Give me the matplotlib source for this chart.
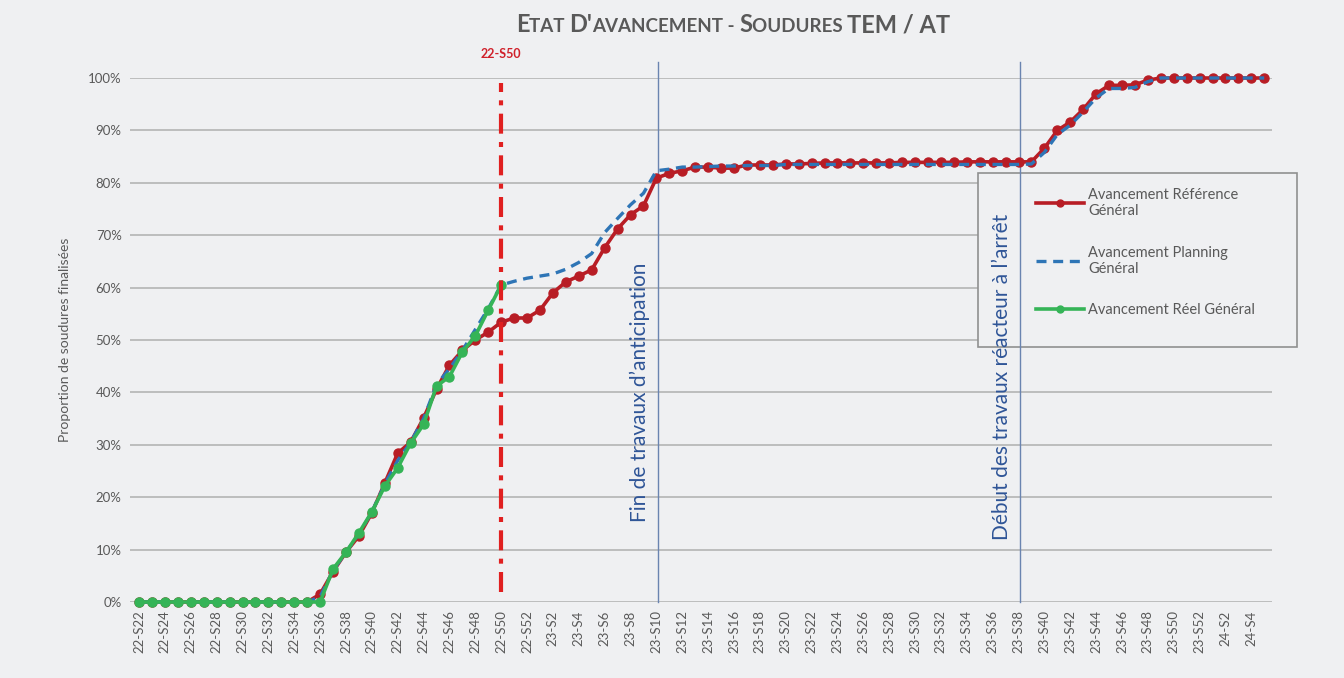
import numpy as np
import matplotlib.pyplot as plt
import matplotlib
from matplotlib.offsetbox import TextArea, HPacker, AnchoredOffsetbox
from matplotlib.patches import Rectangle

matplotlib.rcParams.update({'font.family': ['Lato', 'DejaVu Sans'],
                            'font.size': 10})

# Week categories: 22-S22 .. 22-S52, 23-S1 .. 23-S52, 24-S1 .. 24-S5
weeks = ['22-S%d' % w for w in range(22, 53)] + \
        ['23-S%d' % w for w in range(1, 53)] + \
        ['24-S%d' % w for w in range(1, 6)]

# Avancement Référence Général (%)
reference = [0] * 14 + [
    1.5, 5.8, 9.5, 12.6, 17.0, 22.7, 28.4, 30.5, 35.1, 40.6,
    45.2, 48.0, 50.0, 51.5, 53.4, 54.2, 54.2, 55.7, 59.0, 61.1,
    62.2, 63.4, 67.6, 71.2, 73.9, 75.6, 80.9, 81.8, 82.3, 83.0,
    83.0, 82.8, 82.8, 83.4, 83.4, 83.4,
    83.6, 83.6, 83.7, 83.8, 83.8, 83.8, 83.8, 83.8, 83.8, 83.9,
    83.9, 83.9, 83.9, 83.9, 84.0, 84.0, 84.0, 84.0, 84.0,
    84.0, 86.6, 90.0, 91.6, 94.0, 97.0, 98.6, 98.6, 98.7, 99.6] + [100] * 9

# Avancement Planning Général (%)
planning = [0] * 14 + [
    1.0, 6.0, 9.5, 13.0, 17.2, 22.5, 27.0, 30.5, 35.0, 41.5,
    44.5, 48.0, 52.0, 56.0, 60.5, 61.2, 61.8, 62.2, 62.6, 63.5,
    64.8, 66.5, 70.5, 73.2, 75.8, 78.0, 82.3, 82.6, 83.0, 83.0,
    83.1, 83.2, 83.2, 83.3, 83.3, 83.3] + [83.5] * 19 + [
    83.6, 85.8, 89.2, 91.0, 93.5, 96.2, 98.0, 98.0, 98.2, 99.3] + [100] * 9

# Avancement Réel Général (%)
reel = [0] * 15 + [6.3, 9.5, 13.2, 17.2, 22.1, 25.6, 30.3, 33.9, 41.2,
                   43.0, 47.7, 50.8, 55.7, 60.5]

current_week = '22-S50'
milestones = [('23-S10', 'Fin de travaux d\u2019anticipation', 0.40),
              ('23-S38', 'Début des travaux réacteur à l\u2019arrêt', 0.43)]

bg = '#eff0f2'
grey = '#595959'
c_ref = '#b81d25'
c_plan = '#2e75b6'
c_reel = '#35b457'

x = np.arange(len(weeks))
fig = plt.figure(figsize=(13.44, 6.78), dpi=100, facecolor=bg)
ax = fig.add_axes([130 / 1344, 76 / 678, (1272 - 130) / 1344, (602 - 78) / 678])
ax.set_facecolor(bg)

ax.plot(x, np.array(reference) / 100, color=c_ref, lw=2.6, marker='o', ms=6.5,
        label='Avancement Référence\nGénéral', clip_on=False, zorder=3)
ax.plot(x, np.array(planning) / 100, color=c_plan, lw=2.4, ls=(0, (3, 2)),
        label='Avancement Planning\nGénéral', clip_on=False, zorder=4)
ax.plot(x[:len(reel)], np.array(reel) / 100, color=c_reel, lw=2.6, marker='o',
        ms=6.5, label='Avancement Réel Général', clip_on=False, zorder=5)

ax.set_xlim(-0.7, len(weeks) - 0.4)
ax.set_ylim(0, 1.0)
ax.set_yticks(np.arange(0, 1.01, 0.1))
ax.set_yticklabels(['%d%%' % v for v in range(0, 101, 10)])
ax.set_xticks(x[::2])
ax.set_xticklabels(weeks[::2], rotation=90)
ax.tick_params(length=0, colors=grey, labelsize=9.5, pad=6)
ax.grid(axis='y', color='#b4b4b4', lw=1.2)
ax.set_axisbelow(True)
for s in ax.spines.values():
    s.set_visible(False)
ax.set_ylabel('Proportion de soudures finalisées', color=grey, fontsize=10, labelpad=12)

# current week marker
xi = weeks.index(current_week)
ax.plot([xi, xi], [0.02, 0.99], color='#e02020', lw=3, ls=(0, (4.8, 2, 1.2, 2)), zorder=6)
ax.text(xi, 1.035, current_week, color='#d0202a', fontsize=9, fontweight='bold',
        ha='center', va='bottom')

# legend frame (fixed size box like the original)
frame = Rectangle((978 / 1344, (678 - 347) / 678), (1297 - 978) / 1344, (347 - 173) / 678,
                  transform=fig.transFigure, facecolor=bg, edgecolor='#909090',
                  lw=1.2, clip_on=False, zorder=1.7)
ax.add_patch(frame)
leg = ax.legend(loc='upper left', bbox_to_anchor=(1024 / 1344, (678 - 176) / 678),
                bbox_transform=fig.transFigure, frameon=False,
                handlelength=3.3, handletextpad=0.3, labelspacing=1.9,
                borderpad=0.3, fontsize=10.5, labelcolor=grey)
leg.set_zorder(1.8)
for h in leg.legend_handles:
    h.set_markersize(5)

# milestones
for wk, txt, ypos in milestones:
    xm = weeks.index(wk)
    ax.plot([xm + 0.1, xm + 0.1], [0, 1.03], color='#6a84b0', lw=1, clip_on=False, zorder=2)
    ax.text(xm - 0.5, ypos, txt, rotation=90, color='#2f5597', fontsize=15,
            ha='right', va='center', zorder=7)

# small caps title
big, small = 17, 13.5
pieces = [('E', big), ('TAT ', small), ("D'", big), ('AVANCEMENT - ', small),
          ('S', big), ('OUDURES ', small), ('TEM / AT', big)]
areas = [TextArea(t, textprops=dict(fontsize=s, fontweight='bold', color=grey))
         for t, s in pieces]
box = HPacker(children=areas, align='baseline', pad=0, sep=0)
anch = AnchoredOffsetbox(loc='center', child=box, frameon=False,
                         bbox_to_anchor=(733 / 1344, (678 - 25) / 678),
                         bbox_transform=fig.transFigure, borderpad=0, pad=0)
fig.add_artist(anch)

fig.savefig('out.png', dpi=100, facecolor=bg)
